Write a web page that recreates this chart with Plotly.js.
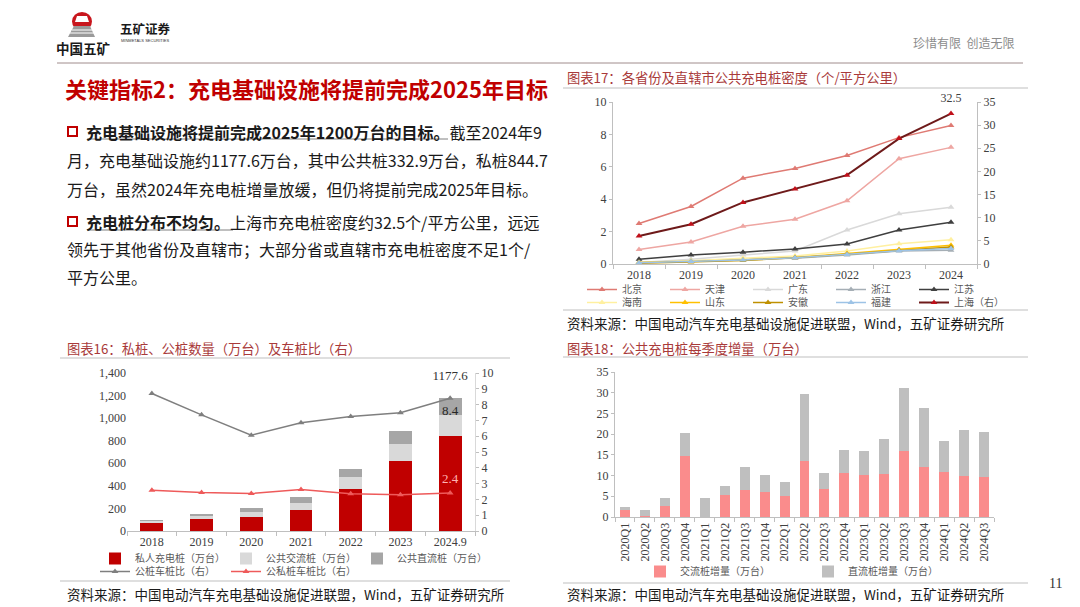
<!DOCTYPE html>
<html><head><meta charset="utf-8">
<script src="https://cdn.plot.ly/plotly-3.0.1.min.js"></script>
<style>html,body{margin:0;padding:0;background:#fff;}#chart{width:1080px;height:607px;}</style>
</head><body><div id="chart"></div>
<script>
// ===== Chart 17: public charging pile density (个/平方公里)
const years17 = ['2018','2019','2020','2021','2022','2023','2024'];
const beijing   = [2.5, 3.55, 5.3, 5.9, 6.7, 7.8, 8.55];
const tianjin   = [0.9, 1.36, 2.33, 2.76, 3.9, 6.5, 7.2];
const guangdong = [0.1, 0.3, 0.55, 0.8, 2.1, 3.1, 3.5];
const zhejiang  = [0.1, 0.2, 0.3, 0.35, 0.55, 0.8, 0.85];
const jiangsu   = [0.3, 0.56, 0.73, 0.93, 1.24, 2.1, 2.58];
const hainan    = [0.1, 0.2, 0.35, 0.5, 0.8, 1.25, 1.5];
const shandong  = [0.1, 0.15, 0.25, 0.4, 0.65, 0.9, 1.15];
const anhui     = [0.05, 0.12, 0.22, 0.38, 0.6, 0.85, 1.05];
const fujian    = [0.08, 0.15, 0.25, 0.38, 0.58, 0.82, 0.95];
const shanghai  = [6.05, 8.6, 13.3, 16.2, 19.2, 27.1, 32.5];

// ===== Chart 16: private / public piles (万台) and vehicle-pile ratio (右)
const years16 = ['2018','2019','2020','2021','2022','2023','2024.9'];
const privatePiles = [73, 103, 126, 185, 374, 618, 844.7];
const publicAC     = [17, 29, 45, 65, 103, 153, 185.9];
const publicDC     = [10, 20, 35, 47, 73, 118, 147.0];
const ratioPublic  = [8.7, 7.35, 6.06, 6.85, 7.25, 7.48, 8.4];
const ratioAll     = [2.58, 2.43, 2.37, 2.62, 2.36, 2.3, 2.4];

// ===== Chart 18: quarterly public pile additions (万台)
const quarters = ['2020Q1','2020Q2','2020Q3','2020Q4','2021Q1','2021Q2','2021Q3','2021Q4',
  '2022Q1','2022Q2','2022Q3','2022Q4','2023Q1','2023Q2','2023Q3','2023Q4','2024Q1','2024Q2','2024Q3'];
const acAdd = [1.8, 0.2, 2.6, 14.8, 0, 5.4, 6.5, 6.0, 5.1, 13.4, 6.7, 10.6, 10.1, 10.3, 15.9, 12.1, 10.8, 9.8, 9.7];
const dcAdd = [0.6, 1.4, 2.0, 5.4, 4.5, 2.0, 5.5, 4.2, 3.3, 16.2, 3.9, 5.5, 5.9, 8.6, 15.2, 14.1, 7.5, 11.3, 10.7];

// ---------- layout helpers ----------
const W = 1080, H = 607;
const X = p => p / W;
const Y = p => 1 - p / H;
const CJK = '"Noto Sans CJK SC", "Noto Sans", sans-serif';
const SERIF = '"Liberation Serif", "DejaVu Serif", serif';

function ln(name, y, color, legend, yaxis, opts) {
  opts = opts || {};
  const t = {
    type: 'scatter', mode: 'lines+markers', name: name, x: years17, y: y,
    xaxis: 'x', yaxis: yaxis || 'y', legend: legend,
    line: {color: opts.lineColor || color, width: opts.width || 1.5},
    marker: {symbol: 'triangle-up', size: 6, color: color}
  };
  if (opts.legendwidth) t.legendwidth = opts.legendwidth;
  return t;
}

function label(x, y, xa, ya, txt, pos, size, color, pad) {
  return {type: 'scatter', mode: 'markers+text', x: [x], y: [y], xaxis: xa, yaxis: ya,
    text: [txt], textposition: pos, showlegend: false, cliponaxis: false, hoverinfo: 'skip',
    marker: {size: pad, opacity: 0, color: '#fff'},
    textfont: {family: SERIF, size: size, color: color}};
}

const total16 = privatePiles[6] + publicAC[6] + publicDC[6];

const traces = [
  ln('北京', beijing, '#df7a73', 'legend'),
  ln('天津', tianjin, '#eea6a2', 'legend'),
  ln('广东', guangdong, '#d9d9d9', 'legend'),
  ln('浙江', zhejiang, '#a5aeb5', 'legend'),
  ln('江苏', jiangsu, '#3f3f3f', 'legend'),
  ln('海南', hainan, '#fff0a0', 'legend2'),
  ln('山东', shandong, '#ffc000', 'legend2'),
  ln('安徽', anhui, '#bf9000', 'legend2'),
  ln('福建', fujian, '#9dc3e6', 'legend2'),
  ln('上海（右）', shanghai, '#c0101a', 'legend2', 'y2', {lineColor: '#6e1a1a', width: 2, legendwidth: 62}),

  {type: 'bar', name: '私人充电桩（万台）', x: years16, y: privatePiles, xaxis: 'x2', yaxis: 'y3',
   marker: {color: '#c00000'}, width: 0.46, legend: 'legend3'},
  {type: 'bar', name: '公共交流桩（万台）', x: years16, y: publicAC, xaxis: 'x2', yaxis: 'y3',
   marker: {color: '#d9d9d9'}, width: 0.46, legend: 'legend3'},
  {type: 'bar', name: '公共直流桩（万台）', x: years16, y: publicDC, xaxis: 'x2', yaxis: 'y3',
   marker: {color: '#a6a6a6'}, width: 0.46, legend: 'legend3'},
  {type: 'scatter', mode: 'lines+markers', name: '公桩车桩比（右）', x: years16, y: ratioPublic,
   xaxis: 'x2', yaxis: 'y4', line: {color: '#7f7f7f', width: 1.5},
   marker: {symbol: 'triangle-up', size: 6, color: '#7f7f7f'}, legend: 'legend4'},
  {type: 'scatter', mode: 'lines+markers', name: '公私桩车桩比（右）', x: years16, y: ratioAll,
   xaxis: 'x2', yaxis: 'y4', line: {color: '#ee5a5a', width: 1.5},
   marker: {symbol: 'triangle-up', size: 6, color: '#ee5a5a'}, legend: 'legend4'},

  {type: 'bar', name: '交流桩增量（万台）', x: quarters, y: acAdd, xaxis: 'x3', yaxis: 'y5',
   marker: {color: '#fa8c8c'}, width: 0.5, legend: 'legend5'},
  {type: 'bar', name: '直流桩增量（万台）', x: quarters, y: dcAdd, xaxis: 'x3', yaxis: 'y5',
   marker: {color: '#bfbfbf'}, width: 0.5, legend: 'legend5'},

  // data labels
  label(years17[6], shanghai[6], 'x', 'y2', shanghai[6].toFixed(1), 'top center', 12, '#404040', 12),
  label(years16[6], total16, 'x2', 'y3', total16.toFixed(1), 'top center', 13, '#333333', 22),
  label(years16[6], ratioPublic[6], 'x2', 'y4', ratioPublic[6].toFixed(1), 'bottom center', 13, '#262626', 10),
  label(years16[6], ratioAll[6], 'x2', 'y4', ratioAll[6].toFixed(1), 'top center', 13, '#ffb3b3', 10)
];

const tickFont = {family: SERIF, size: 12, color: '#404040'};
const axLine = '#bfbfbf';
function catAxis(domain, anchor, extra) {
  return Object.assign({
    domain: domain, anchor: anchor, type: 'category', showline: true, linecolor: axLine, linewidth: 1,
    ticks: 'outside', tickson: 'boundaries', ticklen: 4, tickcolor: axLine,
    showgrid: false, zeroline: false, tickfont: tickFont, fixedrange: true
  }, extra || {});
}
function valAxis(domain, anchor, range, dtick, extra) {
  return Object.assign({
    domain: domain, anchor: anchor, range: range, dtick: dtick, showline: true, linecolor: axLine,
    ticks: 'outside', ticklen: 3, tickcolor: axLine, showgrid: false, zeroline: false,
    tickfont: tickFont, fixedrange: true
  }, extra || {});
}

function legendAt(x, y, entry, size) {
  return {x: X(x), y: Y(y), xanchor: 'left', yanchor: 'top', orientation: 'h',
    entrywidth: entry, entrywidthmode: 'pixels', bgcolor: 'rgba(0,0,0,0)', borderwidth: 0,
    font: {family: CJK, size: size || 10, color: '#595959'}, itemclick: false, itemdoubleclick: false,
    traceorder: 'normal', tracegroupgap: 0};
}

function txt(x, y, text, size, color, extra) {
  return Object.assign({xref: 'paper', yref: 'paper', x: X(x), y: Y(y), xanchor: 'left', yanchor: 'middle',
    text: text, showarrow: false, font: {family: CJK, size: size, color: color}, borderpad: 0}, extra || {});
}

const annotations = [
  // header
  txt(55, 48, '<b>中国五矿</b>', 13.5, '#1a1a1a'),
  txt(119, 29, '<b>五矿证券</b>', 12.5, '#1a1a1a'),
  txt(120, 41, 'MINMETALS SECURITIES', 4, '#333', {font: {family: 'Liberation Sans', size: 4, color: '#333'}}),
  txt(912, 42, '珍惜有限  创造无限', 12, '#8c8c8c'),
  // main title
  txt(64, 88, '<b>关键指标2：充电基础设施将提前完成2025年目标</b>', 22, '#c00000'),
  // body
  txt(85, 132, '<b>充电基础设施将提前完成2025年1200万台的目标。</b>截至2024年9', 16, '#1a1a1a'),
  txt(66, 160, '月，充电基础设施约1177.6万台，其中公共桩332.9万台，私桩844.7', 16, '#1a1a1a'),
  txt(66, 189, '万台，虽然2024年充电桩增量放缓，但仍将提前完成2025年目标。', 16, '#1a1a1a'),
  txt(85, 222, '<b>充电桩分布不均匀。</b>上海市充电桩密度约32.5个/平方公里，远远', 16, '#1a1a1a'),
  txt(66, 249, '领先于其他省份及直辖市；大部分省或直辖市充电桩密度不足1个/', 16, '#1a1a1a'),
  txt(66, 277, '平方公里。', 16, '#1a1a1a'),
  // chart titles
  txt(566, 77, '图表17：各省份及直辖市公共充电桩密度（个/平方公里）', 13.3, '#a93a3a'),
  txt(66, 348, '图表16：私桩、公桩数量（万台）及车桩比（右）', 13.3, '#a93a3a'),
  txt(566, 348, '图表18：公共充电桩每季度增量（万台）', 13.3, '#a93a3a'),
  // sources
  txt(566, 323, '资料来源：中国电动汽车充电基础设施促进联盟，Wind，五矿证券研究所', 13.5, '#1a1a1a'),
  txt(66, 594, '资料来源：中国电动汽车充电基础设施促进联盟，Wind，五矿证券研究所', 13.5, '#1a1a1a'),
  txt(566, 594, '资料来源：中国电动汽车充电基础设施促进联盟，Wind，五矿证券研究所', 13.5, '#1a1a1a'),
  txt(1048, 583, '11', 14, '#333', {font: {family: SERIF, size: 14, color: '#333'}})
];

function hline(x0, x1, y, color, w) {
  return {type: 'line', xref: 'paper', yref: 'paper', x0: X(x0), x1: X(x1), y0: Y(y), y1: Y(y),
    line: {color: color, width: w || 1}};
}
function rectPx(x0, y0, x1, y1, lineColor, fill, w) {
  return {type: 'rect', xref: 'paper', yref: 'paper', x0: X(x0), x1: X(x1), y0: Y(y1), y1: Y(y0),
    line: {color: lineColor, width: w}, fillcolor: fill};
}
function pathPx(pts, fill) {
  const d = pts.map((p, i) => (i ? 'L' : 'M') + X(p[0]) + ',' + Y(p[1])).join(' ') + ' Z';
  return {type: 'path', xref: 'paper', yref: 'paper', path: d, fillcolor: fill, line: {width: 0}};
}

const shapes = [
  // logo emblem
  {type: 'circle', xref: 'paper', yref: 'paper', x0: X(72), x1: X(92), y0: Y(31), y1: Y(12),
   fillcolor: '#c8161d', line: {width: 0}},
  pathPx([[77, 16], [87, 16], [89, 22], [75, 22]], '#ffffff'),
  pathPx([[68, 37], [74, 26], [90, 26], [95, 37]], '#9a9a9a'),
  hline(72, 92, 30, '#ffffff', 1),
  hline(70, 94, 33, '#ffffff', 1),
  // header rule
  hline(57, 1023, 63, '#a08c8c', 1),
  // bullets
  rectPx(68, 127, 77, 136, '#c00000', '#ffffff', 2),
  rectPx(68, 217, 77, 226, '#c00000', '#ffffff', 2),
  // underlines for bold leads
  hline(87, 448, 139, '#808080', 1),
  hline(87, 233, 230, '#808080', 1),
  // chart frames
  hline(563, 1028, 88, '#bfbfbf', 1),
  hline(563, 1028, 310, '#bfbfbf', 1),
  hline(60, 510, 358, '#bfbfbf', 1),
  hline(60, 510, 581, '#bfbfbf', 1),
  hline(563, 1028, 357, '#bfbfbf', 1),
  hline(563, 1028, 583, '#bfbfbf', 1)
];

const layout = {
  width: W, height: H, margin: {l: 0, r: 0, t: 0, b: 0},
  paper_bgcolor: '#ffffff', plot_bgcolor: 'rgba(0,0,0,0)',
  font: {family: CJK, color: '#404040'},
  barmode: 'stack', showlegend: true,
  // chart 17
  xaxis: catAxis([X(613), X(977)], 'y', {range: [-0.5, 6.5]}),
  yaxis: valAxis([Y(264), Y(102)], 'x', [0, 10], 2),
  yaxis2: valAxis([Y(264), Y(102)], 'x', [0, 35], 5, {overlaying: 'y', side: 'right'}),
  // chart 16
  xaxis2: catAxis([X(127), X(475)], 'y3', {range: [-0.5, 6.5]}),
  yaxis3: valAxis([Y(531), Y(373)], 'x2', [0, 1400], 200, {tickformat: ',', showline: false, ticks: ''}),
  yaxis4: valAxis([Y(531), Y(373)], 'x2', [0, 10], 1, {overlaying: 'y3', side: 'right', linecolor: '#d9d9d9'}),
  // chart 18
  xaxis3: catAxis([X(615), X(994)], 'y5', {range: [-0.5, 18.5], tickangle: -90}),
  yaxis5: valAxis([Y(517), Y(372)], 'x3', [0, 35], 5),
  legend: legendAt(582, 275, 38, 10),
  legend2: legendAt(582, 288, 38, 10),
  legend3: legendAt(95, 544, 86, 10),
  legend4: legendAt(95, 557, 86, 10),
  legend5: legendAt(640, 557, 123, 10),
  annotations: annotations,
  shapes: shapes
};

Plotly.newPlot('chart', traces, layout, {displayModeBar: false, staticPlot: true});
</script>
</body></html>
